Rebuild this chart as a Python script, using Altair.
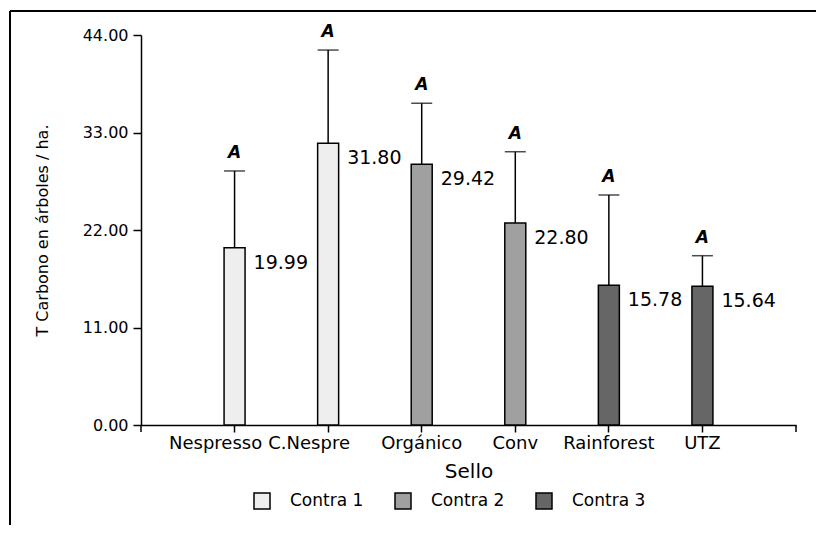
import altair as alt
import pandas as pd

categories = ["Nespresso", "C.Nespre", "Orgánico", "Conv", "Rainforest", "UTZ"]
means = [19.99, 31.80, 29.42, 22.80, 15.78, 15.64]
upper = [28.66, 42.30, 36.30, 30.83, 25.95, 19.10]
groups = ["Contra 1", "Contra 1", "Contra 2", "Contra 2", "Contra 3", "Contra 3"]
letters = ["A", "A", "A", "A", "A", "A"]
group_names = ["Contra 1", "Contra 2", "Contra 3"]
group_colors = ["#eeeeee", "#a0a0a0", "#666666"]
y_ticks = [0, 11, 22, 33, 44]

df = pd.DataFrame({
    "sello": categories,
    "media": means,
    "sup": upper,
    "grupo": groups,
    "letra": letters,
})

W, H = 655, 390
FONT = "DejaVu Sans"

x_axis = alt.Axis(title="Sello", labelAngle=0, labelFontSize=18, labelPadding=2,
                  labelOffset={"condition": {"test": "datum.value == 'Nespresso' || datum.value == 'C.Nespre'",
                                             "value": -19}, "value": 0},
                  tickSize=7, titleFontSize=20, titleFontWeight="normal",
                  titlePadding=9, grid=False)
y_axis = alt.Axis(title="T Carbono en árboles / ha.", values=y_ticks, format=".2f",
                  labelFontSize=16, labelPadding=5, tickSize=8, titleFontSize=16,
                  titleFontWeight="normal", titlePadding=32, grid=False)

x_enc = alt.X("sello:N", sort=categories,
              scale=alt.Scale(paddingInner=0.7756, paddingOuter=0.8878),
              axis=x_axis)
y_scale = alt.Scale(domain=[0, 44], nice=False, zero=True)

base = alt.Chart(df)

bars = base.mark_bar(stroke="black", strokeWidth=1.5).encode(
    x=x_enc,
    y=alt.Y("media:Q", scale=y_scale, axis=y_axis),
    fill=alt.Fill("grupo:N", scale=alt.Scale(domain=group_names, range=group_colors),
                  legend=alt.Legend(title=None, orient="none", direction="horizontal",
                                    legendX=112, legendY=457,
                                    symbolType="square", symbolSize=256,
                                    symbolStrokeColor="black", symbolStrokeWidth=1.5,
                                    labelFont=FONT, labelFontSize=17, labelOffset=19,
                                    columnPadding=28, labelColor="black")),
)

err = base.mark_rule(color="black", strokeWidth=1.5).encode(
    x=x_enc,
    y=alt.Y("media:Q", scale=y_scale, axis=y_axis),
    y2="sup:Q",
)

caps = base.mark_tick(color="black", thickness=1.5, size=21).encode(
    x=x_enc,
    y=alt.Y("sup:Q", scale=y_scale, axis=y_axis),
)

letter_txt = base.mark_text(font=FONT, fontSize=17, fontWeight="bold", fontStyle="italic",
                            baseline="alphabetic", dy=-13, color="black").encode(
    x=x_enc,
    y=alt.Y("sup:Q", scale=y_scale, axis=y_axis),
    text="letra:N",
)

value_txt = base.mark_text(font=FONT, fontSize=19, align="left", baseline="middle",
                           dx=19, dy=15, color="black").encode(
    x=x_enc,
    y=alt.Y("media:Q", scale=y_scale, axis=y_axis),
    text=alt.Text("media:Q", format=".2f"),
)

deco = alt.Chart(pd.DataFrame({"k": [0]}))
frame_v = deco.mark_rule(color="black", strokeWidth=2).encode(
    x=alt.value(-131), y=alt.value(-24), y2=alt.value(520))
frame_h = deco.mark_rule(color="black", strokeWidth=2).encode(
    x=alt.value(-131), x2=alt.value(720), y=alt.value(-24))
end_l = deco.mark_rule(color="black", strokeWidth=1.5).encode(
    x=alt.value(0), y=alt.value(H), y2=alt.value(H + 7))
end_r = deco.mark_rule(color="black", strokeWidth=1.5).encode(
    x=alt.value(W), y=alt.value(H), y2=alt.value(H + 7))

chart = alt.layer(bars, err, caps, letter_txt, value_txt, frame_v, frame_h, end_l, end_r).properties(
    width=W, height=H,
    autosize=alt.AutoSizeParams(type="none"),
    padding={"left": 133, "top": 27, "right": 20, "bottom": 100},
).configure_view(stroke=None).configure_axis(
    labelFont=FONT, titleFont=FONT, labelColor="black", titleColor="black",
    domainColor="black", tickColor="black", domainWidth=1.5, tickWidth=1.5,
).configure_text(font=FONT)

chart.save("out.html", embed_options={"renderer": "svg", "actions": False})
